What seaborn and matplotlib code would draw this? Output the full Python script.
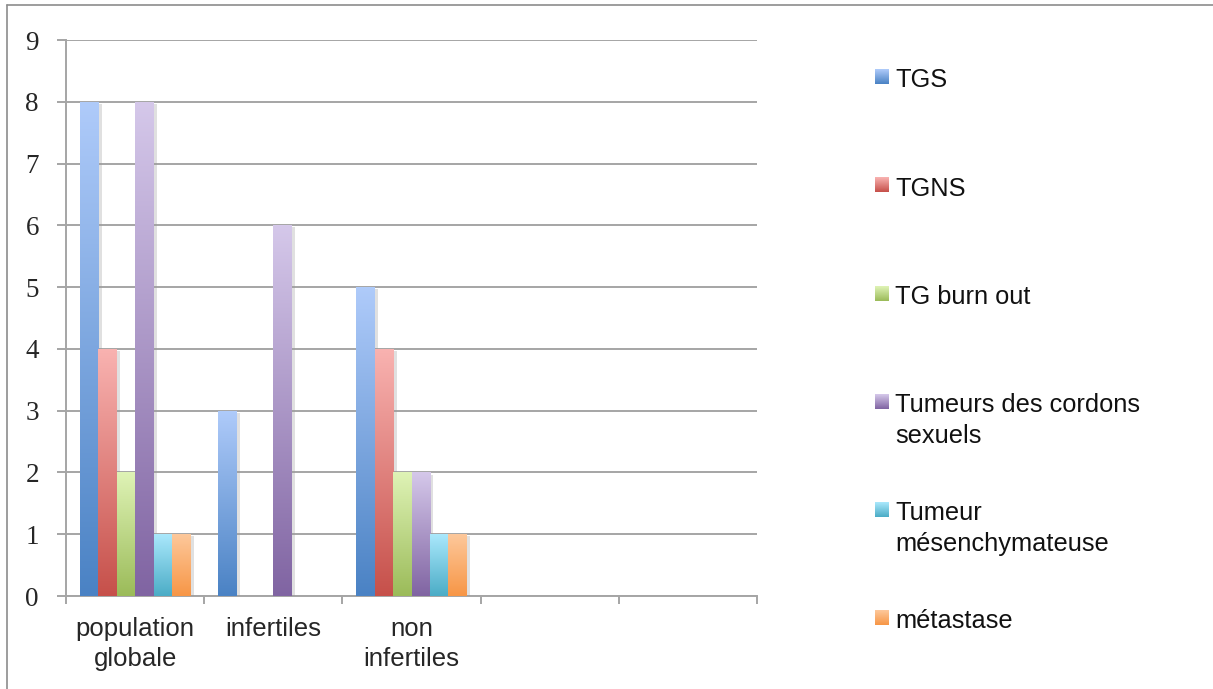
import numpy as np
import pandas as pd
import matplotlib
matplotlib.use("Agg")
import matplotlib.pyplot as plt
import matplotlib.patheffects as pe
from matplotlib.colors import to_rgb
from matplotlib.ticker import FixedLocator
import seaborn as sns

# ---- data -------------------------------------------------------------
groups = ["population\nglobale", "infertiles", "non\ninfertiles"]
series = ["TGS", "TGNS", "TG burn out", "Tumeurs des cordons\nsexuels",
          "Tumeur\nmésenchymateuse", "métastase"]
tgs = [8, 3, 5]
tgns = [4, 0, 4]
tg_burn_out = [2, 0, 2]
cordons = [8, 6, 2]
mesenchym = [1, 0, 1]
metastase = [1, 0, 1]
n_slots = 5  # two empty category slots on the right
y_ticks = list(range(0, 10))

# gradient colours (top, bottom) for each series
tops = ["#afcbfa", "#f9b3b1", "#dff3b6", "#d5c8ea", "#aae8fc", "#fdc89b"]
bottoms = ["#4a82c4", "#c6504a", "#9bbb59", "#8064a2", "#4bacc6", "#f79646"]
mids = ["#7ea6de", "#e07f7a", "#bdd787", "#a996c6", "#7bcae1", "#faaf72"]

values = [tgs, tgns, tg_burn_out, cordons, mesenchym, metastase]
df = pd.DataFrame({
    "groupe": np.repeat([groups], len(series), axis=0).ravel(),
    "serie": np.repeat(series, len(groups)),
    "valeur": np.concatenate(values),
})

# ---- figure -----------------------------------------------------------
W, H = 1213, 689
fig = plt.figure(figsize=(W / 100, H / 100), dpi=100)
sns.set_style("white")
plt.rcParams["font.family"] = ["Liberation Sans", "DejaVu Sans"]

ax = fig.add_axes([66 / W, 1 - 596 / H, (757 - 66) / W, (596 - 40) / H])
sns.barplot(data=df, x="groupe", y="valeur", hue="serie", order=groups,
            hue_order=series, palette=mids, width=0.8, saturation=1,
            linewidth=0, ax=ax, legend=False, zorder=3)

ax.set_xlim(-0.5, n_slots - 0.5)
ax.set_ylim(0, 9)

# vertical gradient inside each bar, plus a soft drop shadow
grad_n = 256
for cont, top, bot in zip(ax.containers, tops, bottoms):
    t = np.array(to_rgb(top))
    b = np.array(to_rgb(bot))
    ramp = np.linspace(0, 1, grad_n)[:, None]
    img = (b + (t - b) * ramp)[:, None, :]  # row 0 = bottom
    for patch in cont.patches:
        h = patch.get_height()
        if h <= 0:
            patch.set_visible(False)
            continue
        patch.set_path_effects([pe.SimplePatchShadow(offset=(2.5, -1.5),
                                                     shadow_rgbFace="#9a9a9a",
                                                     alpha=0.3),
                                pe.Normal()])
        x0, w = patch.get_x(), patch.get_width()
        im = ax.imshow(img, extent=[x0, x0 + w, 0, h], origin="lower",
                       aspect="auto", interpolation="bilinear", zorder=4)
        im.set_clip_path(patch)

ax.set_xlim(-0.5, n_slots - 0.5)
ax.set_ylim(0, 9)

# grid and axes
grid_c = "#a5a5a5"
lw = 1.4
ax.yaxis.set_major_locator(FixedLocator(y_ticks))
ax.set_yticklabels([str(v) for v in y_ticks], family=["Liberation Serif"],
                   fontsize=19.5)
ax.grid(axis="y", color=grid_c, linewidth=lw, zorder=0)
ax.set_axisbelow(True)
for s in ["top", "right"]:
    ax.spines[s].set_visible(False)
for s in ["left", "bottom"]:
    ax.spines[s].set_color(grid_c)
    ax.spines[s].set_linewidth(lw)

ax.set_xticks(range(len(groups)))
ax.set_xticklabels(groups, fontsize=18.5, linespacing=1.3)
ax.xaxis.set_minor_locator(FixedLocator(np.arange(-0.5, n_slots, 1.0)))
ax.tick_params(axis="x", which="both", bottom=True)
ax.tick_params(axis="y", which="both", left=True)
ax.tick_params(axis="x", which="major", length=0, pad=15)
ax.tick_params(axis="x", which="minor", length=6, width=lw, color=grid_c)
ax.tick_params(axis="y", which="major", length=6.5, width=lw, color=grid_c,
               pad=13, labelsize=19.5)
ax.set_xlabel("")
ax.set_ylabel("")

# ---- legend and frame (pixel coordinates overlay) ----------------------
ov = fig.add_axes([0, 0, 1, 1], facecolor="none")
ov.set_xlim(0, W)
ov.set_ylim(H, 0)
ov.axis("off")

legend_base = [87, 195.5, 304, 412, 520.5, 628]
line_step = 31
for name, top, bot, yb in zip(series, tops, bottoms, legend_base):
    t = np.array(to_rgb(top))
    b = np.array(to_rgb(bot))
    ramp = np.linspace(0, 1, 32)[:, None]
    img = (t + (b - t) * ramp)[:, None, :]
    ov.imshow(img, extent=[875, 889, yb - 3, yb - 18], aspect="auto",
              interpolation="bilinear")
    for i, line in enumerate(name.split("\n")):
        ov.text(895, yb + i * line_step, line, fontsize=18.3, va="baseline",
                ha="left", color="#111111")

ov.set_xlim(0, W)
ov.set_ylim(H, 0)
ov.plot([7, W], [5, 5], color="#8c8c8c", linewidth=1.2)
ov.plot([7, 7], [5, H], color="#8c8c8c", linewidth=1.2)

fig.savefig("out.png", dpi=100)
